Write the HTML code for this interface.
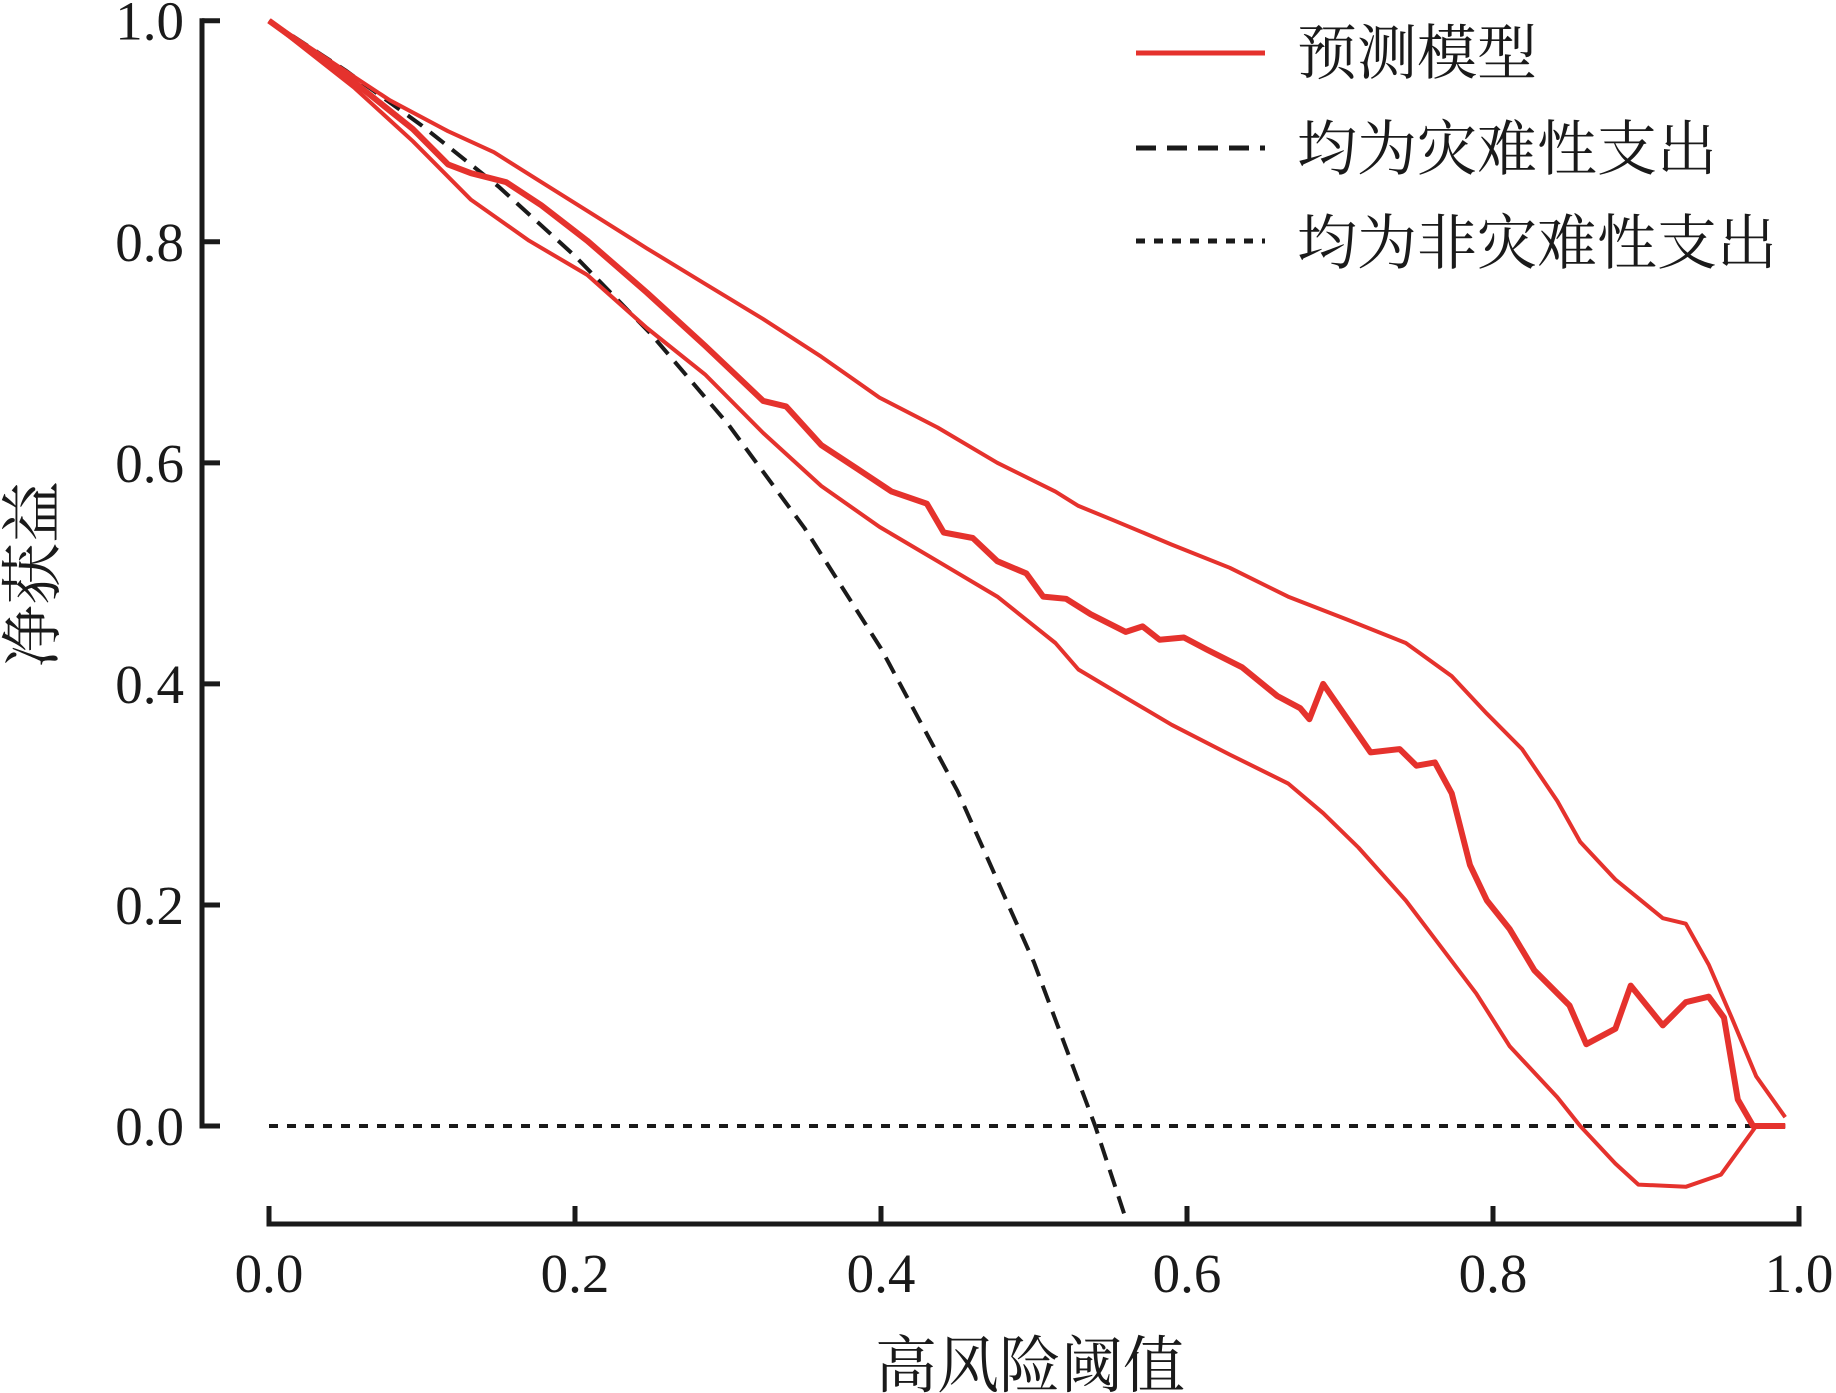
<!DOCTYPE html>
<html><head><meta charset="utf-8"><style>
html,body{margin:0;padding:0;background:#fff;}
svg{display:block;}
text{font-family:"Liberation Serif","Noto Serif CJK SC",serif;fill:#1a1a1a;}
</style></head><body>
<svg id="chart" width="1836" height="1393" viewBox="0 0 1836 1393" xmlns="http://www.w3.org/2000/svg">
<g id="axes"></g>
<g id="series"></g>
<g>
  <line x1="1136" y1="53" x2="1265" y2="53" stroke="#e5322d" stroke-width="5"/>
  <text x="1297" y="74" font-size="60">预测模型</text>
  <line x1="1136" y1="148" x2="1265" y2="148" stroke="#1a1a1a" stroke-width="5" stroke-dasharray="20,11"/>
  <text x="1297" y="170" font-size="60">均为灾难性支出</text>
  <line x1="1136" y1="241" x2="1265" y2="241" stroke="#1a1a1a" stroke-width="5" stroke-dasharray="9,9"/>
  <text x="1297" y="264" font-size="60">均为非灾难性支出</text>
</g>
<text x="1030" y="1387" font-size="62" text-anchor="middle">高风险阈值</text>
<text transform="translate(54,574) rotate(-90)" font-size="62" text-anchor="middle">净获益</text>
</svg>
<script>
const xTicks = [0, 0.2, 0.4, 0.6, 0.8, 1.0];
const yTicks = [0, 0.2, 0.4, 0.6, 0.8, 1.0];
const xTickLabels = ["0.0","0.2","0.4","0.6","0.8","1.0"];
const yTickLabels = ["0.0","0.2","0.4","0.6","0.8","1.0"];

const upperX = [0,.079,.117,.147,.178,.208,.247,.285,.323,.361,.399,.437,.476,.514,.529,.552,.590,.628,.666,.705,.743,.773,.796,.819,.842,.857,.880,.911,.926,.941,.956,.972,.991];
const upperY = [1,.928,.900,.881,.854,.828,.794,.762,.730,.696,.659,.632,.600,.574,.561,.548,.526,.505,.479,.458,.437,.407,.373,.341,.294,.257,.223,.188,.183,.146,.098,.045,.008];

const lowerX = [0,.056,.094,.132,.170,.208,.247,.285,.323,.361,.399,.437,.476,.514,.529,.552,.590,.628,.666,.689,.712,.743,.766,.789,.811,.842,.857,.880,.895,.926,.949,.972,.991];
const lowerY = [1,.939,.891,.838,.801,.770,.722,.680,.627,.579,.542,.511,.479,.437,.413,.394,.363,.336,.310,.283,.252,.204,.162,.120,.072,.026,0,-.034,-.053,-.055,-.044,0,0];

const modelX = [0,.056,.094,.117,.132,.155,.178,.208,.247,.285,.323,.338,.361,.384,.407,.430,.441,.460,.476,.495,.506,.521,.537,.560,.571,.582,.598,.613,.636,.659,.674,.680,.689,.705,.720,.739,.750,.762,.773,.785,.796,.811,.827,.850,.861,.880,.890,.911,.926,.941,.951,.960,.970,.991];
const modelY = [1,.944,.902,.870,.862,.854,.833,.801,.754,.706,.656,.651,.616,.595,.574,.563,.537,.532,.511,.500,.479,.477,.463,.447,.452,.440,.442,.431,.415,.389,.378,.368,.400,.368,.338,.341,.326,.329,.301,.236,.204,.178,.141,.109,.074,.088,.127,.091,.112,.117,.098,.024,0,0];

const allX = [0,.05,.10,.15,.20,.25,.30,.35,.40,.45,.50,.54,.56];
const allY = [1,.955,.905,.850,.787,.716,.635,.541,.432,.303,.148,0,-.084];

const noneX = [0, 0.991];
const noneY = [0, 0];

const X0 = 269, X1 = 1799, Y0 = 1126, Y1 = 20.7;
function sx(v){ return X0 + v*(X1-X0); }
function sy(v){ return Y0 - v*(Y0-Y1); }
const NS = "http://www.w3.org/2000/svg";
const axes = document.getElementById('axes');
const series = document.getElementById('series');
function mk(tag, attrs, parent){
  const e = document.createElementNS(NS, tag);
  for (const k in attrs) e.setAttribute(k, attrs[k]);
  parent.appendChild(e);
  return e;
}
// y axis
let yl = mk('line', {x1:202, y1:sy(1), x2:202, y2:sy(0), stroke:'#1a1a1a', 'stroke-width':5, 'stroke-linecap':'square'}, axes);


yTicks.forEach((v,i)=>{
  const t = mk('line', {x1:202, y1:sy(v), x2:220, y2:sy(v), stroke:'#1a1a1a', 'stroke-width':5}, axes);
  
  
  const l = mk('text', {x:184, y:sy(v)+19, 'font-size':55, 'text-anchor':'end'}, axes);
  l.textContent = yTickLabels[i];
  
  
});
// x axis
let xl = mk('line', {x1:sx(0), y1:1224, x2:sx(1), y2:1224, stroke:'#1a1a1a', 'stroke-width':5, 'stroke-linecap':'square'}, axes);


xTicks.forEach((v,i)=>{
  const t = mk('line', {x1:sx(v), y1:1224, x2:sx(v), y2:1206, stroke:'#1a1a1a', 'stroke-width':5}, axes);
  
  
  const l = mk('text', {x:sx(v), y:1292, 'font-size':55, 'text-anchor':'middle'}, axes);
  l.textContent = xTickLabels[i];
  
  
});
function path(xs, ys, attrs){
  let d = '';
  xs.forEach((x,i)=>{ d += (i?'L':'M') + sx(x).toFixed(1) + ',' + sy(ys[i]).toFixed(1); });
  attrs.d = d; attrs.fill = 'none'; attrs['stroke-linejoin'] = 'round';
  return mk('path', attrs, series);
}
let p;
p = path(noneX, noneY, {stroke:'#1a1a1a', 'stroke-width':4, 'stroke-dasharray':'9,9'});


p = path(allX, allY, {stroke:'#1a1a1a', 'stroke-width':4, 'stroke-dasharray':'18,10'});


p = path(upperX, upperY, {stroke:'#e5322d', 'stroke-width':4});


p = path(lowerX, lowerY, {stroke:'#e5322d', 'stroke-width':4});


p = path(modelX, modelY, {stroke:'#e5322d', 'stroke-width':6});


</script>
</body></html>
